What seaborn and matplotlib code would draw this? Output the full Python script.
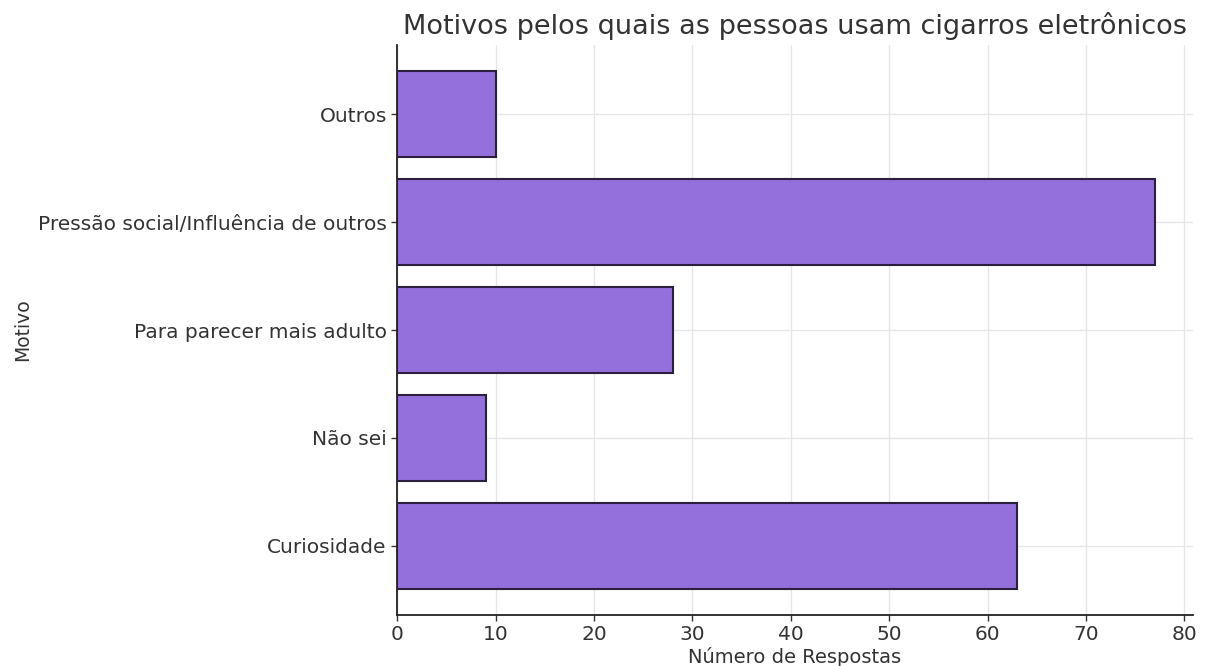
import pandas as pd
import seaborn as sns
import matplotlib.pyplot as plt

# reasons, top to bottom as shown
motivos = ["Outros", "Pressão social/Influência de outros", "Para parecer mais adulto",
           "Não sei", "Curiosidade"]
respostas = [10, 77, 28, 9, 63]

df = pd.DataFrame({"Motivo": motivos, "Número de Respostas": respostas})

sns.set_style("whitegrid", {"grid.color": "#e6e6e6"})
plt.rcParams['font.family'] = ['DejaVu Sans']

fig, ax = plt.subplots(figsize=(12.11, 6.66), dpi=100)
fig.subplots_adjust(left=0.328, right=0.985, top=0.932, bottom=0.077)

sns.barplot(data=df, x="Número de Respostas", y="Motivo", order=motivos,
            color="#9370DB", edgecolor="#2b1f40", linewidth=1.5, width=0.8,
            saturation=1, ax=ax)

ax.set_ylim(4.64, -0.64)
ax.set_xlim(0, 80.85)
ax.set_xticks(range(0, 81, 10))
ax.grid(True, axis='both', color='#e6e6e6', linewidth=1)
ax.set_axisbelow(True)
sns.despine(ax=ax)
ax.spines['left'].set_color('#222222')
ax.spines['bottom'].set_color('#222222')
ax.spines['left'].set_linewidth(1.3)
ax.spines['bottom'].set_linewidth(1.3)
ax.tick_params(axis='both', which='major', labelsize=14.5, colors='#333333',
               length=4, width=1, left=True, bottom=True)
ax.set_xlabel("Número de Respostas", fontsize=14, color='#333333', labelpad=2)
ax.set_ylabel("Motivo", fontsize=13.5, color='#333333', labelpad=4)
ax.set_title("Motivos pelos quais as pessoas usam cigarros eletrônicos",
             fontsize=19.5, color='#333333', pad=8)

fig.savefig("out.png", dpi=100)
